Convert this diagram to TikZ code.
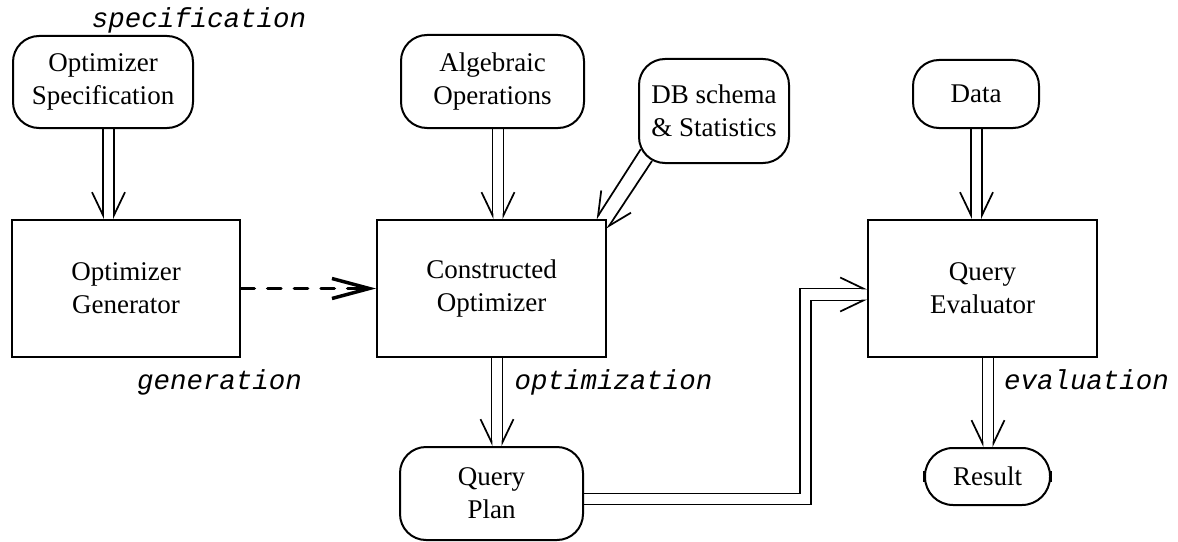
\documentclass[tikz,border=0pt]{standalone}
\usepackage{fontspec}
\setmainfont{Liberation Serif}
\newfontfamily\labfont{Liberation Mono}
\usetikzlibrary{arrows.meta}
\begin{document}
\begin{tikzpicture}[x=0.75pt,y=-0.75pt,
  box/.style={draw, line width=1.5pt, align=center, font=\fontsize{20.25}{25}\selectfont, inner sep=0pt},
  rbox/.style={box, rounded corners=19.5pt},
  lab/.style={font=\labfont\itshape\fontsize{20.6}{24}\selectfont, anchor=base, inner sep=0pt},
  dblL/.style={line width=1.3pt, -{Straight Barb[length=17.25pt,width=16.5pt,harpoon,swap]}},
  dblR/.style={line width=1.3pt, -{Straight Barb[length=17.25pt,width=16.5pt,harpoon]}},
  gen/.style={line width=2.6pt, dash pattern=on 10pt off 10pt, line cap=round, -{Straight Barb[length=28pt,width=15pt]}},
  endmark/.style={line width=2.2pt}
]
\useasboundingbox (0,0) rectangle (1178,542);

% nodes
\node[rbox, minimum width=135pt, minimum height=69pt] (os) at (103,82) {Optimizer\\Specification};
\node[rbox, minimum width=137.25pt, minimum height=69.75pt] (ao) at (492.5,81.5) {Algebraic\\Operations};
\node[rbox, minimum width=112.5pt, minimum height=78pt] (db) at (714,111) {DB schema\\\& Statistics};
\node[rbox, minimum width=94.5pt, minimum height=51pt] (data) at (976,94) {Data};
\node[box, minimum width=171pt, minimum height=102.75pt] (og) at (126,288.5) {Optimizer\\Generator};
\node[box, minimum width=171.75pt, minimum height=102.75pt] (co) at (491.5,288.5) {Constructed\\Optimizer};
\node[box, minimum width=171.75pt, minimum height=102.75pt] (qe) at (982.5,288.5) {Query\\Evaluator};
\node[rbox, minimum width=137.25pt, minimum height=69.75pt] (qp) at (491.5,493.5) {Query\\Plan};
\node[rbox, rounded corners=21pt, minimum width=93.75pt, minimum height=42.75pt] (res) at (987.5,476.5) {Result};

% labels
\node[lab] (lspec) at (199,28) {specification};
\node[lab] (lgen) at (219.5,389) {generation};
\node[lab] (lopt) at (613.5,389) {optimization};
\node[lab] (leval) at (1086.5,389) {evaluation};

% double arrows
\draw[dblL] (os.south) -- (os.south |- og.north);
\draw[dblR] ([xshift=8.25pt]os.south) -- ([xshift=8.25pt]os.south |- og.north);

\draw[dblL] (ao.south) -- (ao.south |- co.north);
\draw[dblR] ([xshift=8.25pt]ao.south) -- ([xshift=8.25pt]ao.south |- co.north);

\draw[dblL] ([xshift=-3.75pt]data.south) -- ([xshift=-3.75pt]data.south |- qe.north);
\draw[dblR] ([xshift=4.5pt]data.south) -- ([xshift=4.5pt]data.south |- qe.north);

\draw[dblL] (co.south) -- (co.south |- qp.north);
\draw[dblR] ([xshift=8.25pt]co.south) -- ([xshift=8.25pt]co.south |- qp.north);

\draw[dblL] (qe.south) -- (qe.south |- res.north);
\draw[dblR] ([xshift=8.25pt]qe.south) -- ([xshift=8.25pt]qe.south |- res.north);

\draw[dblL] ([xshift=2pt,yshift=11pt]db.south west) -- ([xshift=-8.25pt]co.north east);
\draw[dblR] ([xshift=10.5pt,yshift=2.25pt]db.south west) -- ([yshift=-7.5pt]co.north east);

\coordinate (b1) at (800,288.5);
\coordinate (b2) at (811,300.5);
\draw[dblR] (qp.east) -| (b1) -- (qe.west);
\draw[dblL] ([yshift=-8.25pt]qp.east) -| (b2) -- (b2 -| qe.west);

% dashed generation arrow
\draw[gen] (og.east) -- (co.west);

% small marks on Result
\draw[endmark] ([yshift=4pt]res.west) -- ([yshift=-4pt]res.west);
\draw[endmark] ([yshift=4pt]res.east) -- ([yshift=-4pt]res.east);
\end{tikzpicture}
\end{document}
